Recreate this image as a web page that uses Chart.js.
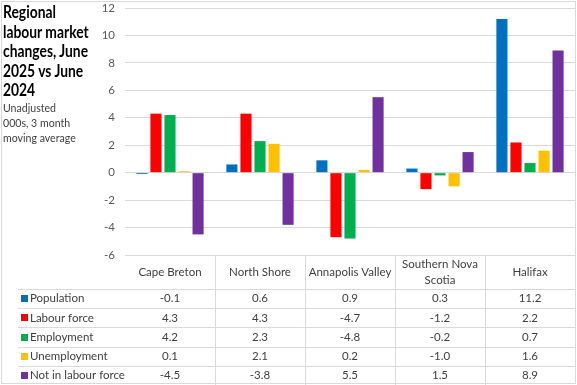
<!DOCTYPE html>
<html>
<head>
<meta charset="utf-8">
<script src="https://cdn.jsdelivr.net/npm/chart.js@4.4.1/dist/chart.umd.min.js"></script>
<style>
  html, body { margin: 0; padding: 0; background: #fff; }
  #wrap { position: relative; width: 577px; height: 385px; overflow: hidden; }
  #c { position: absolute; left: 0; top: 0; }
  #title { position: absolute; left: 3px; top: 3px; font-family: Lato, sans-serif; font-weight: bold; font-size: 16.5px; line-height: 19.5px; color: #000; white-space: nowrap; transform: scaleX(0.84); transform-origin: left top; }
  #sub { position: absolute; left: 3px; top: 100px; font-family: Lato, sans-serif; font-size: 11.5px; line-height: 15px; color: #404040; white-space: nowrap; transform: scaleX(0.92); transform-origin: left top; }
</style>
</head>
<body>
<div id="wrap">
  <canvas id="c" width="577" height="385"></canvas>
  <div id="title">Regional<br>labour market<br>changes, June<br>2025 vs June<br>2024</div>
  <div id="sub">Unadjusted<br>000s, 3 month<br>moving average</div>
</div>
<script>
const categories = ["Cape Breton", "North Shore", "Annapolis Valley", "Southern Nova Scotia", "Halifax"];
const headerLines = [["Cape Breton"], ["North Shore"], ["Annapolis Valley"], ["Southern Nova", "Scotia"], ["Halifax"]];
const seriesNames = ["Population", "Labour force", "Employment", "Unemployment", "Not in labour force"];
const population = [-0.1, 0.6, 0.9, 0.3, 11.2];
const labourForce = [4.3, 4.3, -4.7, -1.2, 2.2];
const employment = [4.2, 2.3, -4.8, -0.2, 0.7];
const unemployment = [0.1, 2.1, 0.2, -1.0, 1.6];
const notInLabourForce = [-4.5, -3.8, 5.5, 1.5, 8.9];
const colors = ["#0070C0", "#FF0000", "#00B050", "#FFC000", "#7030A0"];
const yTicks = [-6, -4, -2, 0, 2, 4, 6, 8, 10, 12];

const seriesData = [population, labourForce, employment, unemployment, notInLabourForce];
const FONT = "Lato, sans-serif";

const tablePlugin = {
  id: 'dataTable',
  afterDraw(chart) {
    const ctx = chart.ctx;
    const xs = chart.scales.x;
    const area = chart.chartArea;
    const n = categories.length;
    const colW = (area.right - area.left) / n;
    const top = area.bottom;
    const headerBottom = 289;
    const rowH = 19.2;
    ctx.save();
    ctx.strokeStyle = '#d9d9d9';
    ctx.lineWidth = 1;
    for (let i = 1; i < n; i++) {
      const x = Math.round(area.left + colW * i) + 0.5;
      ctx.beginPath(); ctx.moveTo(x, top); ctx.lineTo(x, 385); ctx.stroke();
    }
    for (let r = 0; r < seriesNames.length; r++) {
      const y = Math.round(headerBottom + r * rowH) + 0.5;
      ctx.beginPath(); ctx.moveTo(18, y); ctx.lineTo(area.right, y); ctx.stroke();
    }
    ctx.fillStyle = '#404040';
    ctx.font = '11.5px ' + FONT;
    ctx.textAlign = 'center';
    ctx.textBaseline = 'middle';
    for (let i = 0; i < n; i++) {
      const cx = xs.getPixelForValue(i);
      const lines = headerLines[i];
      const mid = (top + headerBottom) / 2;
      lines.forEach((ln, k) => {
        ctx.fillText(ln, cx, mid + (k - (lines.length - 1) / 2) * 16);
      });
    }
    for (let r = 0; r < seriesNames.length; r++) {
      const cy = headerBottom + r * rowH + rowH / 2;
      ctx.fillStyle = colors[r];
      ctx.fillRect(21, Math.round(cy - 3.5), 7, 7);
      ctx.fillStyle = '#404040';
      ctx.textAlign = 'left';
      ctx.fillText(seriesNames[r], 30, cy);
      ctx.textAlign = 'center';
      for (let i = 0; i < n; i++) {
        ctx.fillText(seriesData[r][i].toFixed(1), xs.getPixelForValue(i), cy);
      }
    }
    ctx.strokeStyle = '#d9d9d9';
    ctx.strokeRect(1.5, 1.5, 574, 382);
    ctx.restore();
  }
};

new Chart(document.getElementById('c'), {
  type: 'bar',
  data: {
    labels: categories,
    datasets: seriesNames.map((name, i) => ({
      label: name,
      data: seriesData[i],
      backgroundColor: colors[i],
      categoryPercentage: 0.78,
      barPercentage: 0.79
    }))
  },
  options: {
    responsive: false,
    animation: false,
    layout: { padding: { left: 95, right: 2, top: 8, bottom: 130 } },
    plugins: { legend: { display: false }, tooltip: { enabled: false } },
    scales: {
      x: { display: false },
      y: {
        min: -6, max: 12,
        afterFit(s) { s.width = 30; s.paddingTop = 0; s.paddingBottom = 0; },
        afterBuildTicks(s) { s.ticks = yTicks.map(v => ({ value: v })); },
        border: { display: false },
        grid: { color: '#d9d9d9', drawTicks: false },
        ticks: { color: '#595959', font: { family: FONT, size: 11.5 }, padding: 10 }
      }
    }
  },
  plugins: [tablePlugin]
});
</script>
</body>
</html>
